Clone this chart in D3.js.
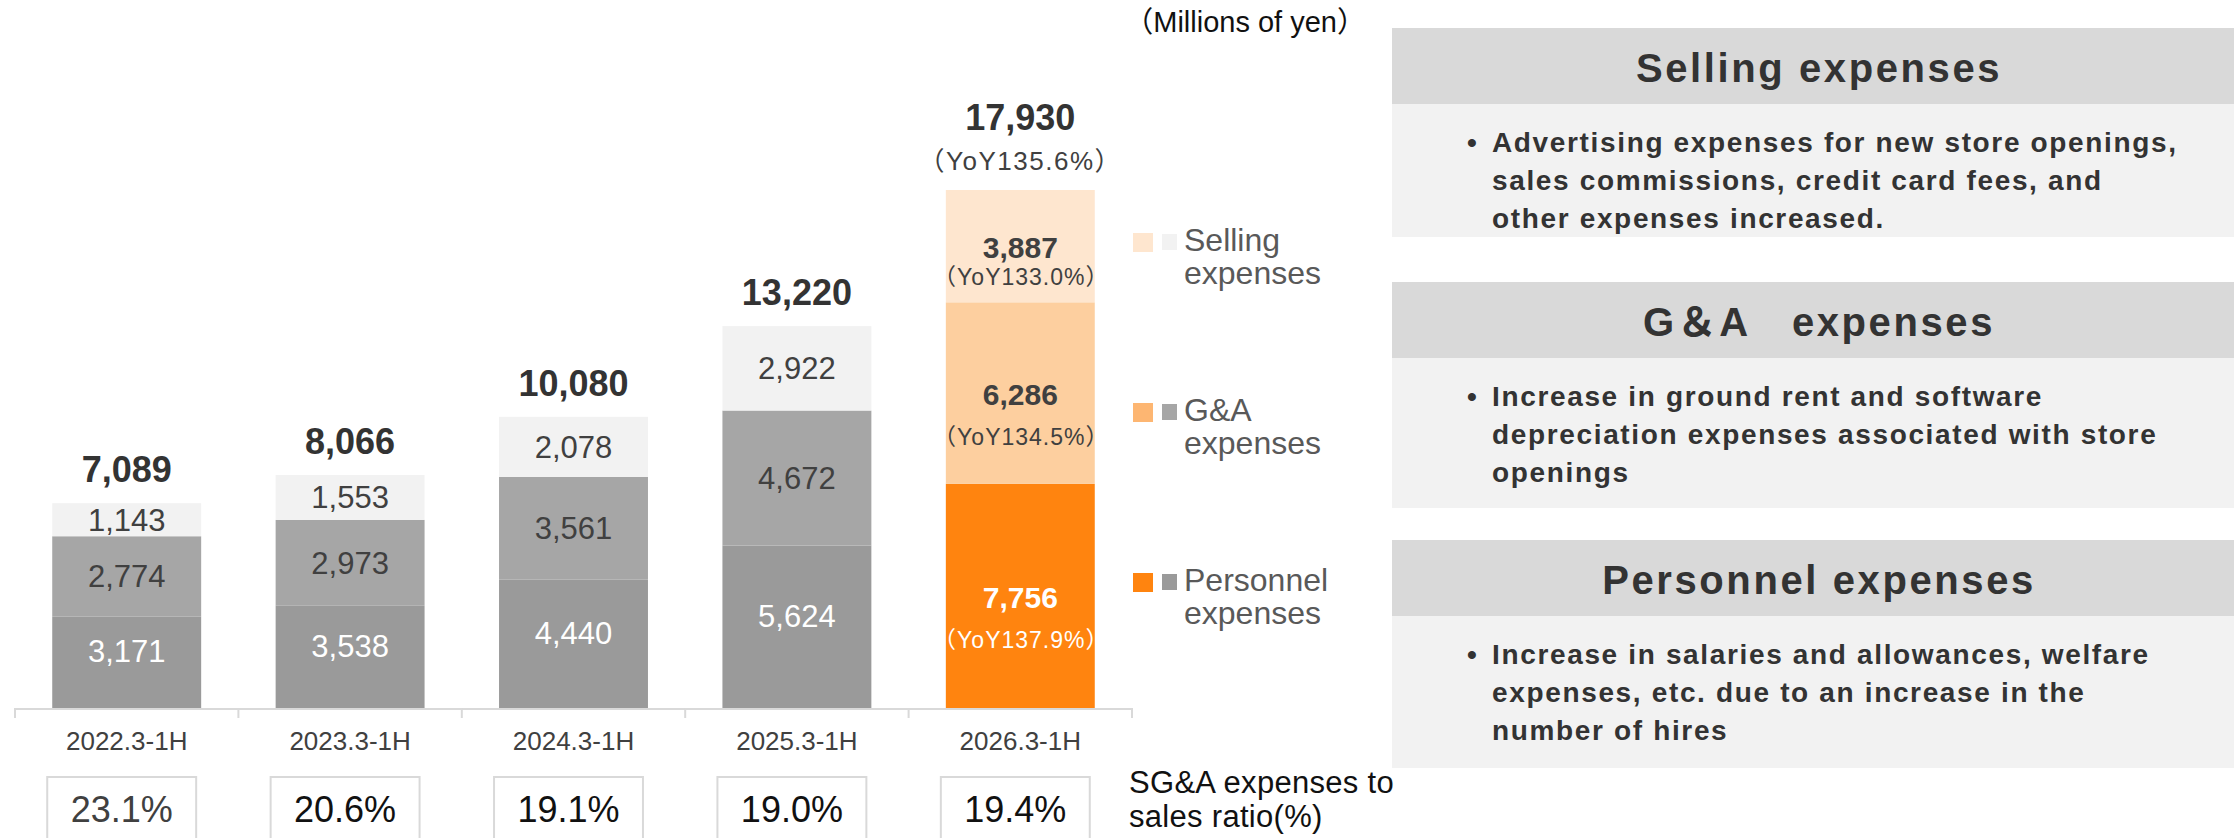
<!DOCTYPE html>
<html>
<head>
<meta charset="utf-8">
<script src="https://cdn.jsdelivr.net/npm/d3@7"></script>
<style>
  body { margin: 0; background: #fff; }
  svg text { font-family: "Liberation Sans", Arial, "Noto Sans CJK JP", sans-serif; }
</style>
</head>
<body>
<script>
// ---- data (millions of yen) ----
var categories = ['2022.3-1H', '2023.3-1H', '2024.3-1H', '2025.3-1H', '2026.3-1H'];
var personnel = [3171, 3538, 4440, 5624, 7756];
var gaExp = [2774, 2973, 3561, 4672, 6286];
var selling = [1143, 1553, 2078, 2922, 3887];
var totals = [7089, 8066, 10080, 13220, 17930];
var sgaRatio = ['23.1%', '20.6%', '19.1%', '19.0%', '19.4%'];

// YoY of the latest half only
var yoyTotal = '135.6%';
var yoySeries = { personnel: '137.9%', ga: '134.5%', selling: '133.0%' };

var seriesKeys = ['personnel', 'ga', 'selling'];
var legendLabels = [['Selling', 'expenses'], ['G&A', 'expenses'], ['Personnel', 'expenses']];
var legendKeys = ['selling', 'ga', 'personnel'];

var panelTitles = ['Selling expenses', 'G＆A　expenses', 'Personnel expenses'];
var panelLines = [
  ['Advertising expenses for new store openings,', 'sales commissions, credit card fees, and', 'other expenses increased.'],
  ['Increase in ground rent and software', 'depreciation expenses associated with store', 'openings'],
  ['Increase in salaries and allowances, welfare', 'expenses, etc. due to an increase in the', 'number of hires']
];

var grayCols = { personnel: '#9a9a9a', ga: '#a6a6a6', selling: '#f2f2f2' };
var orangeCols = { personnel: '#ff840f', ga: '#fdcf9f', selling: '#fee6cf' };
var legendOrange = { personnel: '#ff840f', ga: '#fdb672', selling: '#fee6cf' };

var W = 2234, H = 838;
var svg = d3.select('body').append('svg')
  .attr('width', W)
  .attr('height', H);

var rows = categories.map(function (c, i) {
  return { cat: c, personnel: personnel[i], ga: gaExp[i], selling: selling[i] };
});
var stacked = d3.stack().keys(seriesKeys)(rows);
var last = categories.length - 1;

var x = d3.scaleBand()
  .domain(categories)
  .range([15, 1132])
  .paddingInner(1 / 3)
  .paddingOuter(1 / 6);

var y = d3.scaleLinear()
  .domain([0, d3.max(stacked[stacked.length - 1], function (d) { return d[1]; })])
  .range([708, 190]);

// bars
var layer = svg.append('g').selectAll('g')
  .data(stacked)
  .enter().append('g');

layer.selectAll('rect')
  .data(function (s) { return s.map(function (d, i) { d.key = s.key; d.i = i; return d; }); })
  .enter().append('rect')
  .attr('x', function (d) { return x(d.data.cat); })
  .attr('y', function (d) { return y(d[1]); })
  .attr('width', x.bandwidth())
  .attr('height', function (d) { return y(d[0]) - y(d[1]); })
  .attr('fill', function (d) { return d.i === last ? orangeCols[d.key] : grayCols[d.key]; });

// segment labels
layer.each(function (s) {
  var g = d3.select(this);
  s.forEach(function (d, i) {
    var cx = x(d.data.cat) + x.bandwidth() / 2;
    var mid = (y(d[0]) + y(d[1])) / 2;
    var col = s.key === 'personnel' ? '#ffffff' : '#404040';
    if (i === last) {
      var gap = (y(d[0]) - y(d[1])) > 150 ? 40 : 27;
      g.append('text')
        .attr('x', cx).attr('y', mid + 12)
        .attr('text-anchor', 'middle')
        .attr('font-size', 30).attr('font-weight', 'bold')
        .attr('fill', col)
        .text(d3.format(',')(d[1] - d[0]));
      g.append('text')
        .attr('x', cx + 1).attr('y', mid + 12 + gap)
        .attr('text-anchor', 'middle')
        .attr('font-size', 23)
        .attr('letter-spacing', 1)
        .attr('fill', col)
        .text('（YoY' + yoySeries[s.key] + '）');
    } else {
      var lift = s.key === 'personnel' ? 11 : 0;
      g.append('text')
        .attr('x', cx).attr('y', mid + 11 - lift)
        .attr('text-anchor', 'middle')
        .attr('font-size', 31)
        .attr('fill', col)
        .text(d3.format(',')(d[1] - d[0]));
    }
  });
});

// totals above bars
var topLayer = stacked[stacked.length - 1];
svg.append('g').selectAll('text')
  .data(topLayer)
  .enter().append('text')
  .attr('x', function (d) { return x(d.data.cat) + x.bandwidth() / 2; })
  .attr('y', function (d, i) { return y(d[1]) - (i === last ? 60 : 21); })
  .attr('text-anchor', 'middle')
  .attr('font-size', 36)
  .attr('font-weight', 'bold')
  .attr('fill', '#333333')
  .text(function (d, i) { return d3.format(',')(totals[i]); });

svg.append('text')
  .attr('x', x(categories[last]) + x.bandwidth() / 2)
  .attr('y', y(topLayer[last][1]) - 20)
  .attr('text-anchor', 'middle')
  .attr('font-size', 26)
  .attr('letter-spacing', 1.5)
  .attr('fill', '#404040')
  .text('（YoY' + yoyTotal + '）');

// category axis: baseline with ticks at band edges
var axis = svg.append('g');
axis.append('line')
  .attr('x1', x.range()[0]).attr('x2', x.range()[1])
  .attr('y1', y(0) + 1).attr('y2', y(0) + 1)
  .attr('stroke', '#d9d9d9').attr('stroke-width', 2);
var edges = d3.range(categories.length + 1).map(function (i) { return x.range()[0] + i * x.step(); });
axis.selectAll('line.tick')
  .data(edges)
  .enter().append('line')
  .attr('class', 'tick')
  .attr('x1', function (d) { return d; }).attr('x2', function (d) { return d; })
  .attr('y1', y(0)).attr('y2', y(0) + 10)
  .attr('stroke', '#d9d9d9').attr('stroke-width', 2);
axis.selectAll('text')
  .data(categories)
  .enter().append('text')
  .attr('x', function (d) { return x(d) + x.bandwidth() / 2; })
  .attr('y', 750)
  .attr('text-anchor', 'middle')
  .attr('font-size', 26)
  .attr('fill', '#404040')
  .text(function (d) { return d; });

// SG&A ratio boxes
var ratio = svg.append('g').selectAll('g')
  .data(categories)
  .enter().append('g')
  .attr('transform', function (d) { return 'translate(' + (x(d) - 5) + ',777)'; });
ratio.append('rect')
  .attr('width', x.bandwidth())
  .attr('height', 80)
  .attr('fill', '#fff')
  .attr('stroke', '#d9d9d9')
  .attr('stroke-width', 2);
ratio.append('text')
  .attr('x', x.bandwidth() / 2)
  .attr('y', 45)
  .attr('text-anchor', 'middle')
  .attr('font-size', 36)
  .attr('fill', function (d, i) { return i === 0 ? '#404040' : '#111111'; })
  .text(function (d, i) { return sgaRatio[i]; });

svg.append('text')
  .attr('x', 1129).attr('y', 793)
  .attr('font-size', 31).attr('letter-spacing', 0.3).attr('fill', '#111')
  .text('SG&A expenses to');
svg.append('text')
  .attr('x', 1129).attr('y', 827)
  .attr('font-size', 31).attr('letter-spacing', 0.3).attr('fill', '#111')
  .text('sales ratio(%)');

svg.append('text')
  .attr('x', 1366).attr('y', 32)
  .attr('text-anchor', 'end')
  .attr('font-size', 29).attr('fill', '#111')
  .text('（Millions of yen）');

// legend
var legendY = [233, 403, 573];
var legend = svg.append('g').selectAll('g')
  .data(legendKeys)
  .enter().append('g')
  .attr('transform', function (d, i) { return 'translate(1133,' + legendY[i] + ')'; });
legend.append('rect')
  .attr('width', 20).attr('height', 19)
  .attr('fill', function (d) { return legendOrange[d]; });
legend.append('rect')
  .attr('x', 29).attr('y', 1)
  .attr('width', 15).attr('height', 16)
  .attr('fill', function (d) { return grayCols[d]; });
legend.append('text')
  .attr('x', 51).attr('y', 18)
  .attr('font-size', 32).attr('fill', '#595959')
  .text(function (d, i) { return legendLabels[i][0]; });
legend.append('text')
  .attr('x', 51).attr('y', 51)
  .attr('font-size', 32).attr('fill', '#595959')
  .text(function (d, i) { return legendLabels[i][1]; });

// right-hand comment panels
var panelTop = [28, 282, 540];
var bodyH = [133, 150, 152];
var px = 1392, pw = W - px, headH = 76;
var panel = svg.append('g').selectAll('g')
  .data(panelTitles)
  .enter().append('g')
  .attr('transform', function (d, i) { return 'translate(' + px + ',' + panelTop[i] + ')'; });
panel.append('rect')
  .attr('width', pw).attr('height', headH)
  .attr('fill', '#d9d9d9');
panel.append('rect')
  .attr('y', headH)
  .attr('width', pw).attr('height', function (d, i) { return bodyH[i]; })
  .attr('fill', '#f2f2f2');
panel.append('text')
  .attr('x', pw / 2 + 6).attr('y', 54)
  .attr('text-anchor', 'middle')
  .attr('font-size', 40).attr('font-weight', 'bold')
  .attr('letter-spacing', 2.6)
  .attr('fill', '#333333')
  .text(function (d) { return d; });
panel.append('text')
  .attr('x', 75).attr('y', headH + 48)
  .attr('font-size', 28).attr('font-weight', 'bold')
  .attr('fill', '#333333')
  .text('•');
panel.each(function (d, i) {
  d3.select(this).selectAll('text.line')
    .data(panelLines[i])
    .enter().append('text')
    .attr('class', 'line')
    .attr('x', 100)
    .attr('y', function (t, j) { return headH + 48 + j * 38; })
    .attr('font-size', 28).attr('font-weight', 'bold')
    .attr('letter-spacing', 1.65)
    .attr('fill', '#333333')
    .text(function (t) { return t; });
});
</script>
</body>
</html>
